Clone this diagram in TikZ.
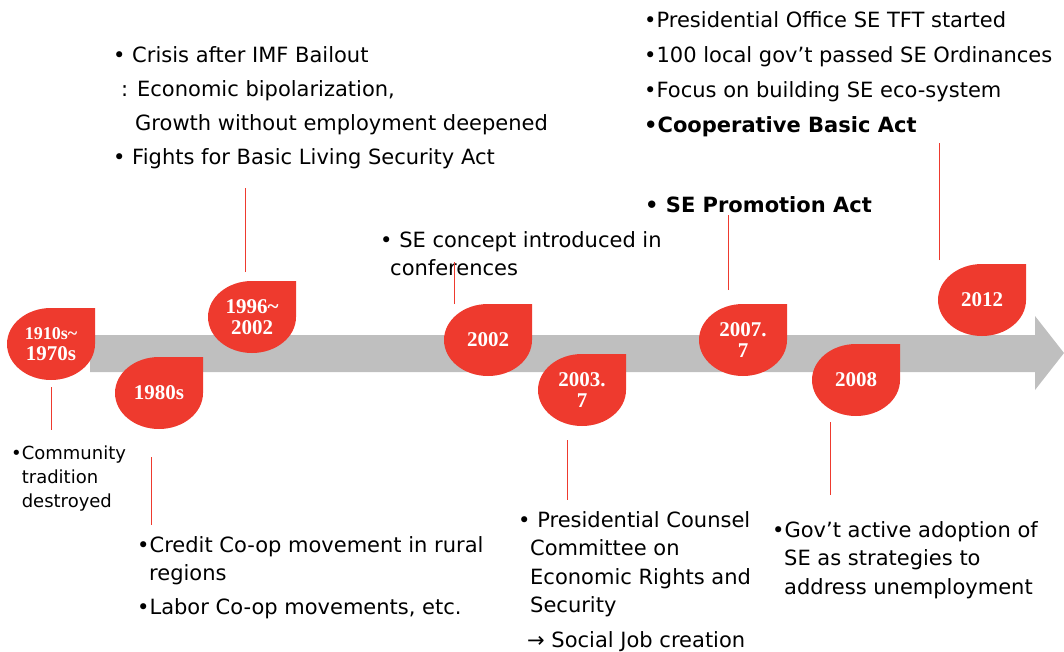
\documentclass[tikz,border=0pt]{standalone}
\usepackage{fontspec}
\setmainfont{DejaVu Sans}
\newfontfamily\yearfont{Liberation Serif}

\definecolor{dropred}{RGB}{238,58,46}
\definecolor{axisgray}{RGB}{191,191,191}

\tikzset{
  yeartext/.style={text=white,font=\yearfont\bfseries\fontsize{21}{21}\selectfont,align=center,inner sep=0pt},
  note/.style={anchor=base west,align=left,inner sep=0pt,font=\fontsize{21}{34}\selectfont},
  tick/.style={dropred,line width=0.8pt}
}

% red drop: name, centre, label
\newcommand{\yeardrop}[3]{%
  \fill[dropred] (#2) ++(44,0) -- ++(0,36) -- ++(-44,0)
    arc[start angle=90,end angle=360,x radius=44,y radius=36] -- cycle;
  \node[yeartext] (#1) at (#2) {#3};}

\begin{document}
\begin{tikzpicture}[x=1pt,y=1pt]
\useasboundingbox (0,0) rectangle (1064,-652);

%time axis
\fill[axisgray] (90,-335) -- (1035,-335) -- (1035,-316) -- (1064,-353)
  -- (1035,-390) -- (1035,-372) -- (90,-372) -- cycle;

%year drops
\yeardrop{d1910}{51,-344}{\fontsize{18}{20}\selectfont 1910s\textasciitilde\\1970s}
\yeardrop{d1980}{159,-393}{1980s}
\yeardrop{d1996}{252,-317}{1996\textasciitilde\\2002}
\yeardrop{d2002}{488,-340}{2002}
\yeardrop{d2003}{582,-390}{2003.\\7}
\yeardrop{d2007}{743,-340}{2007.\\7}
\yeardrop{d2008}{856,-380}{2008}
\yeardrop{d2012}{982,-300}{2012}

%notes (placed at the baseline of their last line)
\node[note] (n1996) at (113,-165) {• Crisis after IMF Bailout\\
  \hspace{8pt}: Economic bipolarization,\\
  \hspace{22pt}Growth without employment deepened\\
  • Fights for Basic Living Security Act};
\node[note,font=\fontsize{21}{28}\selectfont] (n2002) at (380,-275) {• SE concept introduced in\\
  \hspace{10pt}conferences};
\node[note,font=\fontsize{21}{35}\selectfont] (n2012) at (644,-133) {•Presidential Office SE TFT started\\
  •100 local gov’t passed SE Ordinances\\
  •Focus on building SE eco-system\\
  \textbf{•Cooperative Basic Act}};
\node[note] (n2007) at (645,-212) {\textbf{• SE Promotion Act}};
\node[note,font=\fontsize{18}{24}\selectfont] (n1910) at (11,-507) {•Community\\
  \hspace{10.6pt}tradition\\
  \hspace{10.6pt}destroyed};
\node[note,font=\fontsize{21}{28}\selectfont] (n1980) at (137,-614) {•Credit Co-op movement in rural\\
  \hspace{12pt}regions\\[6pt]
  •Labor Co-op movements, etc.};
\node[note,font=\fontsize{21}{28.5}\selectfont] (n2003) at (518,-647) {• Presidential Counsel\\
  \hspace{12pt}Committee on\\
  \hspace{12pt}Economic Rights and\\
  \hspace{12pt}Security\\[6pt]
  \hspace{9pt}→ Social Job creation};
\node[note,font=\fontsize{21}{28.5}\selectfont] (n2008) at (772,-594) {•Gov’t active adoption of\\
  \hspace{12pt}SE as strategies to\\
  \hspace{12pt}address unemployment};

%connectors
\coordinate (t1910a) at (51,-387);  \coordinate (t1910b) at (51,-430);
\coordinate (t1980a) at (151,-457); \coordinate (t1980b) at (151,-525);
\coordinate (t1996a) at (245,-272); \coordinate (t1996b) at (245,-188);
\coordinate (t2002a) at (454,-304); \coordinate (t2002b) at (454,-262);
\coordinate (t2003a) at (567,-440); \coordinate (t2003b) at (567,-500);
\coordinate (t2007a) at (728,-290); \coordinate (t2007b) at (728,-215);
\coordinate (t2008a) at (830,-422); \coordinate (t2008b) at (830,-495);
\coordinate (t2012a) at (939,-260); \coordinate (t2012b) at (939,-143);
\foreach \t in {1910,1980,1996,2002,2003,2007,2008,2012}
  \draw[tick] (t\t a) -- (t\t b);

\end{tikzpicture}
\end{document}
